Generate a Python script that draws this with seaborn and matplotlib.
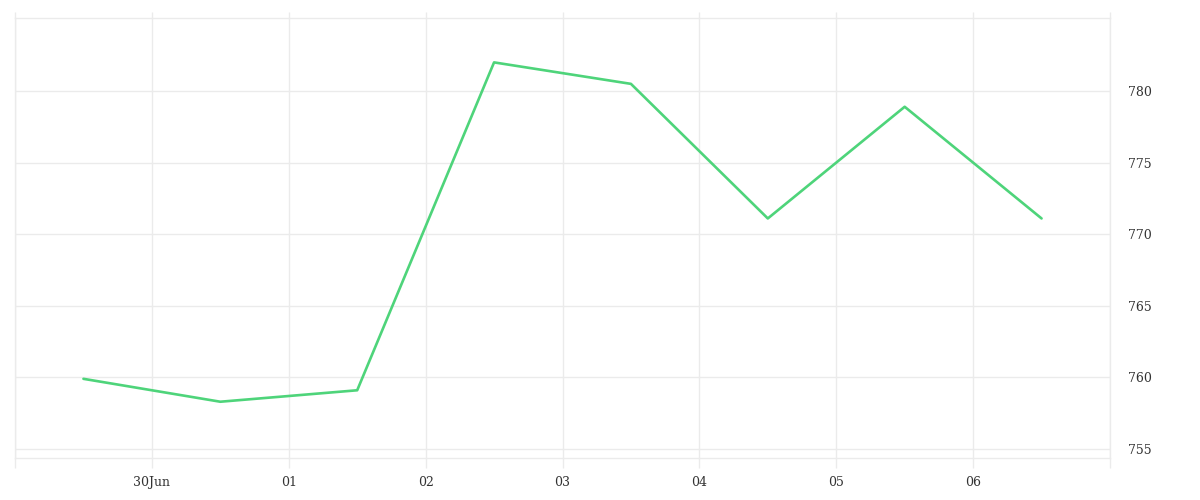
import pandas as pd
import seaborn as sns
import matplotlib.pyplot as plt
import matplotlib.dates as mdates

# valeurs (un point par jour, à midi)
dates = ["2023-06-29 12:00", "2023-06-30 12:00", "2023-07-01 12:00", "2023-07-02 12:00",
         "2023-07-03 12:00", "2023-07-04 12:00", "2023-07-05 12:00", "2023-07-06 12:00"]
values = [759.9, 758.3, 759.1, 782.0, 780.5, 771.1, 778.9, 771.1]
tick_days = ["2023-06-29", "2023-06-30", "2023-07-01", "2023-07-02", "2023-07-03",
             "2023-07-04", "2023-07-05", "2023-07-06", "2023-07-07"]
tick_labels = ["", "30Jun", "01", "02", "03", "04", "05", "06", ""]
y_ticks = [755, 760, 765, 770, 775, 780]

df = pd.DataFrame({"date": pd.to_datetime(dates), "value": values})

sns.set_style("white")
plt.rcParams["font.family"] = ["DejaVu Serif"]

grid_col = "#ebebeb"
fig = plt.figure(figsize=(12, 5), dpi=100)
ax = fig.add_axes([15 / 1200, 42 / 500, 1095 / 1200, 440 / 500])

sns.lineplot(data=df, x="date", y="value", ax=ax, color="#4ed47a", linewidth=1.9)

ax.set_xlim(pd.Timestamp(tick_days[0]), pd.Timestamp(tick_days[-1]))
ax.set_ylim(754.37, 785.1)
ax.set_xticks(pd.to_datetime(tick_days))
ax.set_xticklabels(tick_labels)
ax.set_yticks(y_ticks)
ax.yaxis.tick_right()

ax.grid(True, color=grid_col, linewidth=1)
for s in ax.spines.values():
    s.set_color(grid_col)
    s.set_linewidth(1)

ax.tick_params(axis="x", which="major", bottom=True, top=True, direction="out",
               length=7, width=1, color=grid_col, labelsize=9, labelcolor="#333333", pad=6)
ax.tick_params(axis="x", which="major", top=True, length=7)
ax.xaxis.set_tick_params(which="major", top=True)
ax.tick_params(axis="y", length=0, labelsize=9, labelcolor="#333333", pad=13)
ax.set_xlabel("")
ax.set_ylabel("")

# petits traits en haut plus courts
for t in ax.xaxis.get_major_ticks():
    t.tick2line.set_markersize(4.3)

fig.savefig("out.png", dpi=100)
